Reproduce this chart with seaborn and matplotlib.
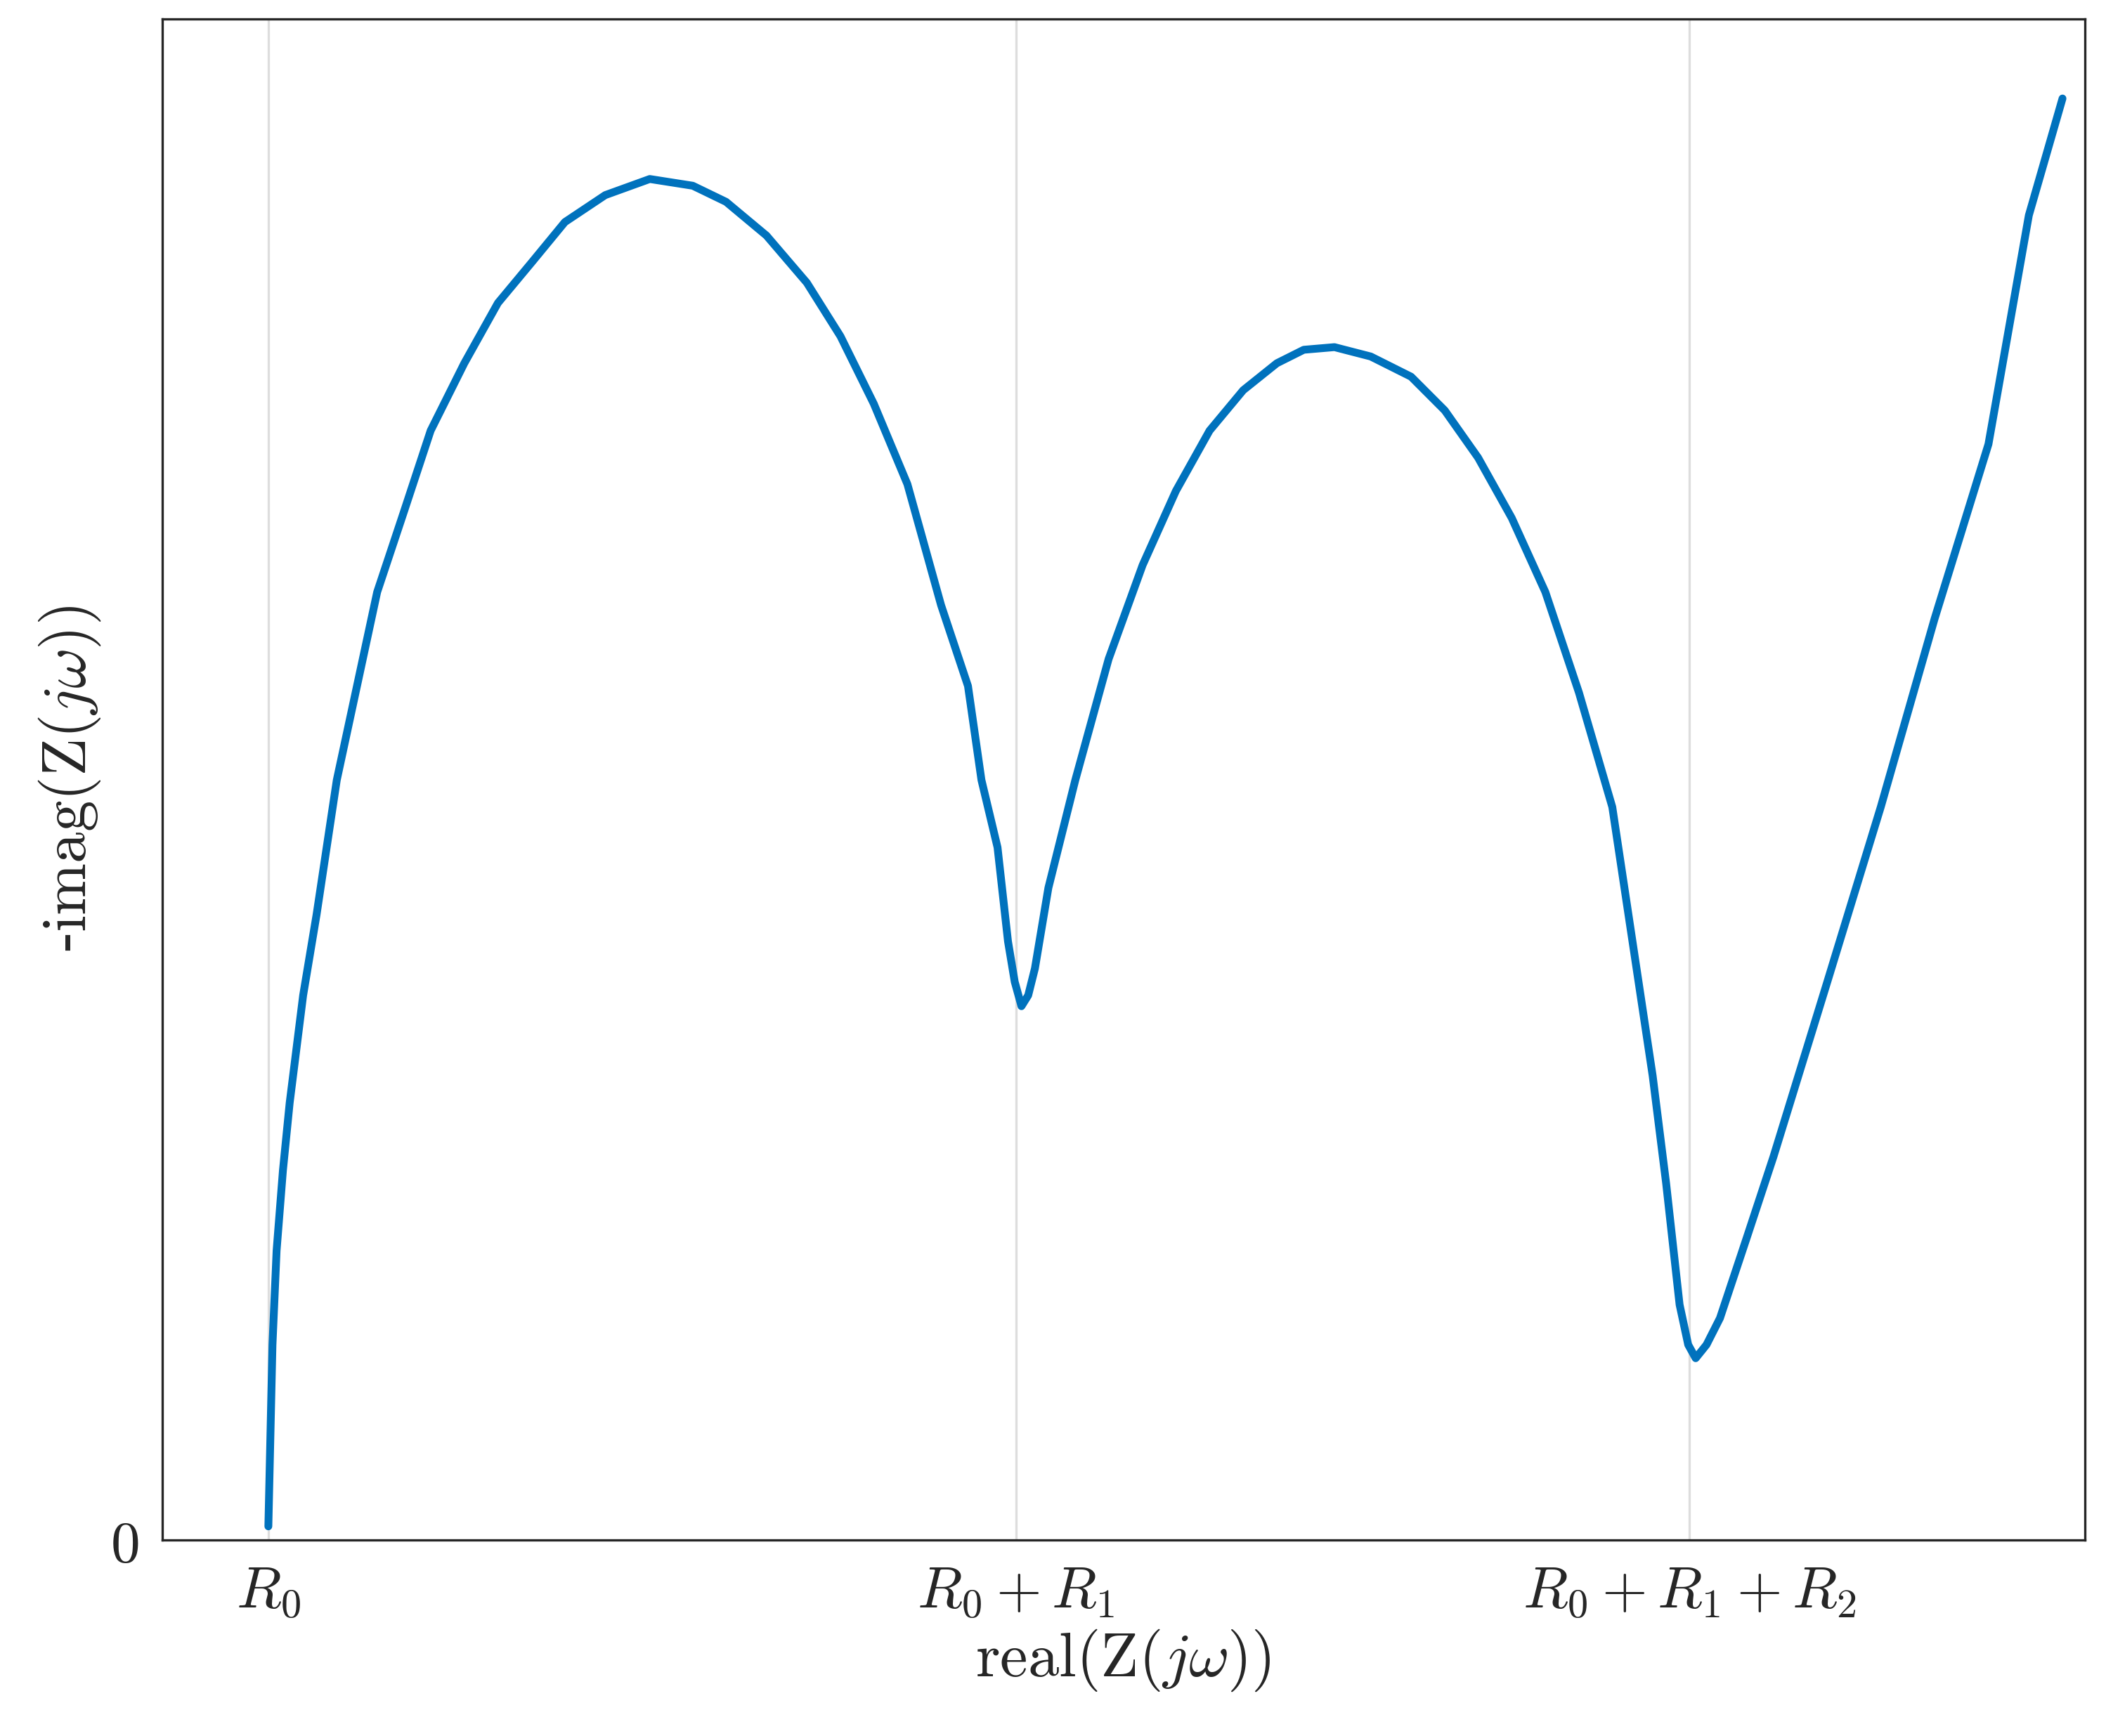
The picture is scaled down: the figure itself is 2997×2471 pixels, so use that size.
import matplotlib
matplotlib.use("Agg")
import matplotlib.pyplot as plt
import seaborn as sns
import pandas as pd

sns.set_theme(style="white")
plt.rcParams['mathtext.fontset'] = 'cm'
plt.rcParams['font.family'] = ['DejaVu Serif']

x_vals = [0.5, 0.511, 0.522, 0.539, 0.557, 0.593, 0.629, 0.683, 0.737, 0.791, 0.863, 0.934, 1.024, 1.114, 1.204,
          1.293, 1.401, 1.520, 1.635, 1.724, 1.832, 1.940, 2.030, 2.119, 2.209, 2.299, 2.371, 2.407, 2.450,
          2.478, 2.496, 2.514, 2.532, 2.550, 2.586, 2.658, 2.747, 2.838, 2.927, 3.017, 3.107, 3.197, 3.269,
          3.351, 3.448, 3.556, 3.646, 3.735, 3.825, 3.915, 4.005, 4.094, 4.148, 4.202, 4.238, 4.274, 4.297,
          4.317, 4.346, 4.382, 4.454, 4.525, 4.669, 4.812, 4.956, 5.100, 5.208, 5.298]
y_vals = [0.036, 0.521, 0.772, 0.987, 1.167, 1.454, 1.670, 2.029, 2.280, 2.531, 2.747, 2.962, 3.142, 3.303, 3.411,
          3.519, 3.591, 3.634, 3.616, 3.573, 3.483, 3.357, 3.214, 3.034, 2.819, 2.496, 2.280, 2.029, 1.849,
          1.598, 1.490, 1.425, 1.454, 1.526, 1.741, 2.029, 2.352, 2.603, 2.801, 2.962, 3.070, 3.142, 3.178,
          3.185, 3.160, 3.106, 3.016, 2.890, 2.729, 2.531, 2.262, 1.957, 1.598, 1.239, 0.952, 0.628, 0.521,
          0.485, 0.521, 0.592, 0.808, 1.023, 1.490, 1.957, 2.460, 2.926, 3.537, 3.849]
xtick_pos = [0.5, 2.5, 4.3]
xtick_labels = [r'$R_0$', r'$R_0+R_1$', r'$R_0+R_1+R_2$']

df = pd.DataFrame({'x': x_vals, 'y': y_vals})
fig, ax = plt.subplots(figsize=(14.985, 12.355), dpi=200)
fig.subplots_adjust(left=0.077, right=0.99, top=0.989, bottom=0.113)
for p in xtick_pos:
    ax.axvline(p, color='#dddddd', lw=1.2, zorder=0)
sns.lineplot(data=df, x='x', y='y', sort=False, color='#0072BD', lw=4, ax=ax)
ax.set_xlim(0.216, 5.358)
ax.set_ylim(0, 4.061)
ax.set_xticks(xtick_pos)
ax.set_xticklabels(xtick_labels)
ax.set_yticks([0])
ax.set_yticklabels(['$0$'])
ax.tick_params(labelsize=30, length=0, colors='#262626', pad=12)
ax.set_xlabel(r'$\mathrm{real}(\mathrm{Z}(j\omega))$', fontsize=32, color='#262626', labelpad=4)
ax.set_ylabel(r'-$\mathrm{imag}(\mathrm{Z}(j\omega))$', fontsize=32, color='#262626', labelpad=4)
for s in ax.spines.values():
    s.set_color('#262626'); s.set_linewidth(1.2)
fig.savefig('out.png', dpi=200)
